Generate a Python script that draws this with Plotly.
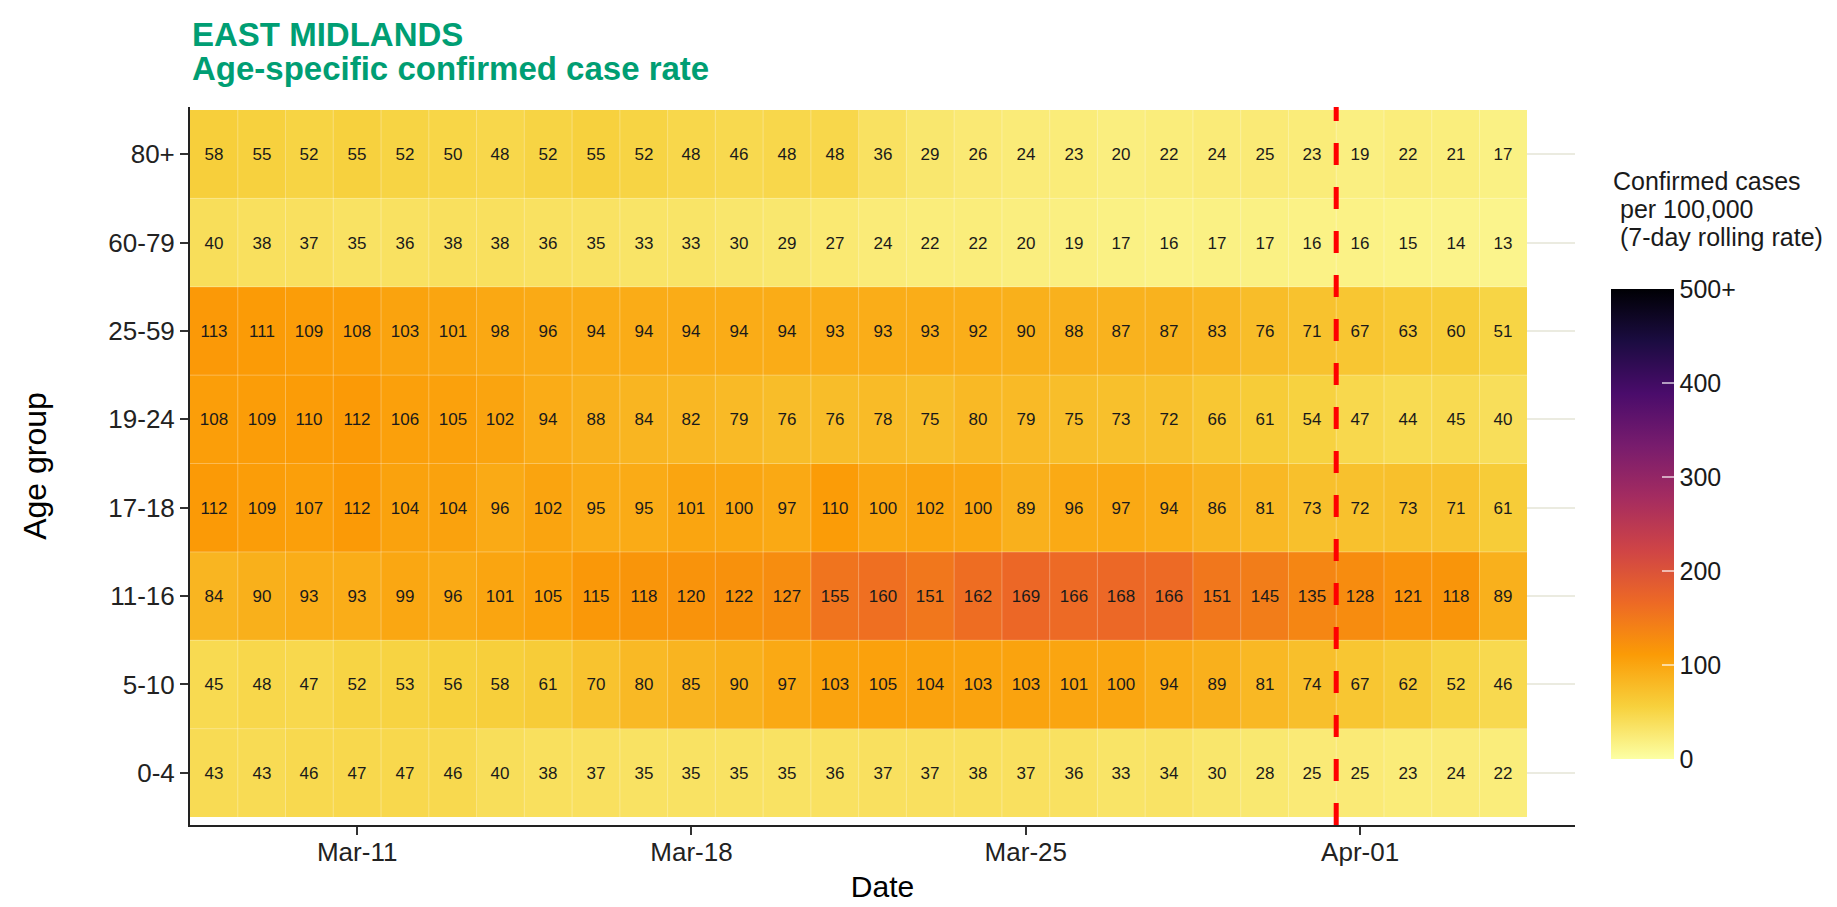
import plotly.graph_objects as go
import pandas as pd

dates = pd.date_range("2021-03-08", "2021-04-04", freq="D").strftime("%Y-%m-%d").tolist()
age_groups = ["0-4", "5-10", "11-16", "17-18", "19-24", "25-59", "60-79", "80+"]

r_0_4 = [43, 43, 46, 47, 47, 46, 40, 38, 37, 35, 35, 35, 35, 36, 37, 37, 38, 37, 36, 33, 34, 30, 28, 25, 25, 23, 24, 22]
r_5_10 = [45, 48, 47, 52, 53, 56, 58, 61, 70, 80, 85, 90, 97, 103, 105, 104, 103, 103, 101, 100, 94, 89, 81, 74, 67, 62, 52, 46]
r_11_16 = [84, 90, 93, 93, 99, 96, 101, 105, 115, 118, 120, 122, 127, 155, 160, 151, 162, 169, 166, 168, 166, 151, 145, 135, 128, 121, 118, 89]
r_17_18 = [112, 109, 107, 112, 104, 104, 96, 102, 95, 95, 101, 100, 97, 110, 100, 102, 100, 89, 96, 97, 94, 86, 81, 73, 72, 73, 71, 61]
r_19_24 = [108, 109, 110, 112, 106, 105, 102, 94, 88, 84, 82, 79, 76, 76, 78, 75, 80, 79, 75, 73, 72, 66, 61, 54, 47, 44, 45, 40]
r_25_59 = [113, 111, 109, 108, 103, 101, 98, 96, 94, 94, 94, 94, 94, 93, 93, 93, 92, 90, 88, 87, 87, 83, 76, 71, 67, 63, 60, 51]
r_60_79 = [40, 38, 37, 35, 36, 38, 38, 36, 35, 33, 33, 30, 29, 27, 24, 22, 22, 20, 19, 17, 16, 17, 17, 16, 16, 15, 14, 13]
r_80p = [58, 55, 52, 55, 52, 50, 48, 52, 55, 52, 48, 46, 48, 48, 36, 29, 26, 24, 23, 20, 22, 24, 25, 23, 19, 22, 21, 17]

z = [r_0_4, r_5_10, r_11_16, r_17_18, r_19_24, r_25_59, r_60_79, r_80p]

x_tickvals = ["2021-03-11", "2021-03-18", "2021-03-25", "2021-04-01"]
x_ticktext = ["Mar-11", "Mar-18", "Mar-25", "Apr-01"]
cb_tickvals = [0, 100, 200, 300, 400, 500]
cb_ticktext = ["0", "100", "200", "300", "400", "500+"]
marker_date = "2021-03-31 12:00"
title_lines = ["EAST MIDLANDS", "Age-specific confirmed case rate"]
legend_lines = ["Confirmed cases", "per 100,000", "(7-day rolling rate)"]

FONT = "Liberation Sans, Arial, sans-serif"
W, H = 1837, 907
L, R, T, B = 182, 270, 99, 90
PH = H - T - B
PW = W - L - R


def py(ypx):
    """pixel row (from top) -> paper y"""
    return (H - B - ypx) / PH


fig = go.Figure()
fig.add_trace(go.Heatmap(
    x=dates, y=age_groups, z=z,
    colorscale="Inferno_r", zmin=0, zmax=500,
    texttemplate="%{z}", textfont=dict(size=17, color="#1a1a1a", family=FONT),
    colorbar=dict(
        x=1.026, xanchor="left", xpad=0, y=py(516), yanchor="middle", ypad=0,
        len=470 / PH, lenmode="fraction", thickness=63, thicknessmode="pixels",
        outlinewidth=0, tickvals=cb_tickvals, ticktext=cb_ticktext,
        ticks="inside", ticklen=12, tickcolor="rgba(255,255,255,0.6)", tickwidth=1.5,
        tickfont=dict(size=25, color="#1a1a1a", family=FONT),
        title=dict(text=""),
    ),
    hoverongaps=False,
))

# faint cell borders
half = pd.Timedelta(hours=12)
for d in pd.to_datetime(dates)[1:]:
    xb = (d - half).strftime("%Y-%m-%d %H:%M")
    fig.add_shape(type="line", xref="x", yref="y", x0=xb, x1=xb, y0=-0.5, y1=len(age_groups) - 0.5,
                  line=dict(color="rgba(255,255,255,0.3)", width=1), layer="above")
for k in range(1, len(age_groups)):
    fig.add_shape(type="line", xref="x", yref="y",
                  x0=(pd.to_datetime(dates[0]) - half).strftime("%Y-%m-%d %H:%M"),
                  x1=(pd.to_datetime(dates[-1]) + half).strftime("%Y-%m-%d %H:%M"),
                  y0=k - 0.5, y1=k - 0.5,
                  line=dict(color="rgba(255,255,255,0.3)", width=1), layer="above")

fig.add_shape(type="line", xref="x", yref="paper", x0=marker_date, x1=marker_date,
              y0=0, y1=1, line=dict(color="#ff0000", width=5, dash="22px,22px"))

# titles
for txt, ypix in zip(title_lines, [27, 61]):
    fig.add_annotation(xref="paper", yref="paper", x=0, y=py(ypix), xanchor="left", yanchor="middle",
                       showarrow=False, text=f"<b>{txt}</b>",
                       font=dict(size=33, color="#009e73", family=FONT))

# colorbar title
for i, (txt, ypix) in enumerate(zip(legend_lines, [173, 201, 229])):
    xoff = 0 if i == 0 else 7 / PW
    fig.add_annotation(xref="paper", yref="paper", x=1.026 + xoff, y=py(ypix), xanchor="left", yanchor="middle",
                       showarrow=False, text=txt,
                       font=dict(size=25, color="#1a1a1a", family=FONT))

fig.update_layout(
    width=W, height=H,
    margin=dict(l=L, r=R, t=T, b=B, autoexpand=False),
    paper_bgcolor="white", plot_bgcolor="white",
    font=dict(family=FONT),
    showlegend=False,
)

fig.update_xaxes(
    type="date", range=["2021-03-07 12:00", "2021-04-05 12:00"],
    tickvals=x_tickvals, ticktext=x_ticktext,
    ticks="outside", ticklen=8, tickcolor="#333333", tickwidth=2,
    ticklabelstandoff=-5,
    tickfont=dict(size=26, color="#222222"),
    showline=True, linecolor="#222222", linewidth=2,
    showgrid=False, zeroline=False, automargin=False,
    title=dict(text="Date", font=dict(size=30, color="#000000"), standoff=10),
)
fig.update_yaxes(
    type="category", range=[-0.59, 7.534],
    ticks="outside", ticklen=8, tickcolor="#333333", tickwidth=2,
    tickfont=dict(size=26, color="#222222"),
    showline=True, linecolor="#222222", linewidth=2,
    showgrid=True, gridcolor="#ebebe0", gridwidth=2, zeroline=False, automargin=False,
    title=dict(text="Age group", font=dict(size=32, color="#000000"), standoff=52),
)

fig.write_html("out.html")
